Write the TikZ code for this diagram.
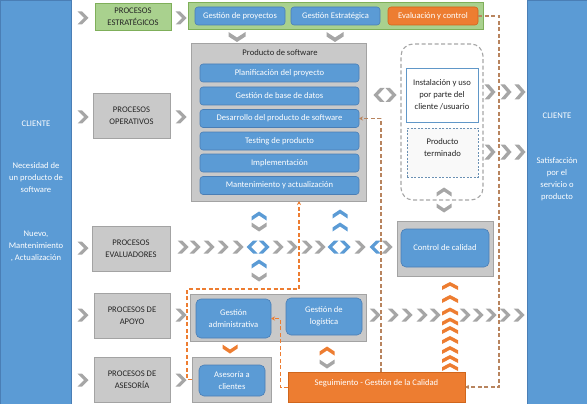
\documentclass[tikz,border=0pt]{standalone}
\usepackage{fontspec}
\setmainfont{Carlito}
\usetikzlibrary{arrows.meta,calc}
\definecolor{cblue}{HTML}{5B9BD5}
\definecolor{cblued}{HTML}{4A7EB5}
\definecolor{cgray}{HTML}{C9C9C9}
\definecolor{cgrayd}{HTML}{A3A3A3}
\definecolor{cchev}{HTML}{A6A6A6}
\definecolor{corange}{HTML}{ED7D31}
\definecolor{corangd}{HTML}{D0661C}
\definecolor{cbrown}{HTML}{B8845E}
\definecolor{cgreen}{HTML}{A9D18E}
\definecolor{cgreend}{HTML}{7FAF5A}
\definecolor{ctext}{HTML}{262626}
\tikzset{
  pics/chevr/.style args={#1/#2/#3}{code={
    \fill (-#1,-#2) -- (-#1+#3,-#2) -- (#1,0) -- (-#1+#3,#2) -- (-#1,#2) -- (#1-#3,0) -- cycle;}},
  gch/.style={color=cchev},
  bch/.style={color=cblue},
  och/.style={color=corange},
  bar/.style={fill=cblue, draw=cblued, line width=0.6pt},
  wtext/.style={text=white, align=center},
  ktext/.style={text=ctext, align=center},
  gbox/.style={fill=cgray, draw=cgrayd, line width=0.8pt, text=ctext, align=center},
  grbox/.style={fill=cgreen, draw=cgreend, line width=0.8pt, text=ctext, align=center},
  bbox/.style={fill=cblue, draw=cblued, line width=0.6pt, rounded corners=3pt, text=white, align=center},
  obox/.style={fill=corange, draw=corangd, line width=0.6pt, text=white, align=center},
  orbox/.style={fill=corange, draw=corangd, line width=0.6pt, rounded corners=3pt, text=white, align=center},
  bline/.style={draw=cbrown, line width=1.1pt, dash pattern=on 4pt off 2.5pt},
  oline/.style={draw=corange, line width=1.1pt, dash pattern=on 4pt off 2.5pt},
  tip/.style={-{Stealth[length=4pt,width=4pt]}}
}
\begin{document}
\begin{tikzpicture}[x=1pt,y=-1pt,font=\fontsize{8.6}{12}\selectfont,
  every node/.style={inner sep=0pt,outer sep=0pt}]
\useasboundingbox (0,0) rectangle (587,404);

% client bars
\node[bar, minimum width=71pt, minimum height=404pt] (cl) at (35.5,202) {};
\node[wtext] (clt1) at (36,124) {CLIENTE};
\node[wtext] (clt2) at (36,178) {Necesidad de\\un producto de\\software};
\node[wtext] (clt3) at (36,246) {Nuevo,\\Mantenimiento\\, Actualización};
\node[bar, minimum width=60pt, minimum height=404pt] (cr) at (557,202) {};
\node[wtext] (crt1) at (557,116) {CLIENTE};
\node[wtext] (crt2) at (557,179) {Satisfacción\\por el\\servicio o\\producto};

% process labels
\node[grbox, minimum width=76pt, minimum height=27pt] (pest) at (133,16.5) {PROCESOS\\ESTRATÉGICOS};
\node[gbox, minimum width=77pt, minimum height=45pt] (pope) at (131.5,115.5) {PROCESOS\\OPERATIVOS};
\node[gbox, minimum width=78pt, minimum height=45pt] (peva) at (131,248.5) {PROCESOS\\EVALUADORES};
\node[gbox, minimum width=76pt, minimum height=45pt] (papo) at (132,315.5) {PROCESOS DE\\APOYO};
\node[gbox, minimum width=76pt, minimum height=45pt] (pase) at (132,379.5) {PROCESOS DE\\ASESORÍA};

% strategic
\node[grbox, minimum width=295pt, minimum height=27pt] (gstr) at (335.5,15.5) {};
\node[bbox, minimum width=90pt, minimum height=18pt] (gpro) at (240,16) {Gestión de proyectos};
\node[bbox, minimum width=89pt, minimum height=18pt] (gest) at (335.5,16) {Gestión Estratégica};
\node[orbox, minimum width=90pt, minimum height=18pt] (evalc) at (433,16) {Evaluación y control};

% product
\node[gbox, minimum width=175pt, minimum height=158pt] (prod) at (278.5,122) {};
\node[ktext] (prodt) at (280,53) {Producto de software};
\node[bbox, minimum width=159pt, minimum height=18pt] (plan) at (279.5,73) {Planificación del proyecto};
\node[bbox, minimum width=159pt, minimum height=18pt] (gbd) at (279.5,96) {Gestión de base de datos};
\node[bbox, minimum width=159pt, minimum height=18pt] (desa) at (279.5,118.5) {Desarrollo del producto de software};
\node[bbox, minimum width=159pt, minimum height=18pt] (test) at (279.5,141) {Testing de producto};
\node[bbox, minimum width=159pt, minimum height=18pt] (impl) at (279.5,163) {Implementación};
\node[bbox, minimum width=159pt, minimum height=18pt] (mant) at (279.5,185.5) {Mantenimiento y actualización};

% delivery
\node[draw=cchev, line width=1.1pt, dash pattern=on 4pt off 2.5pt, rounded corners=12pt,
      minimum width=82pt, minimum height=156pt] (deliv) at (442,122) {};
\node[draw=cblue!85!gray, line width=0.7pt, fill=white, minimum width=72pt, minimum height=54pt, ktext] (inst) at (442,95) {Instalación y uso\\por parte del\\cliente /usuario};
\node[draw=cblue!60!gray, line width=0.7pt, dash pattern=on 2pt off 1.5pt, fill=gray!5, minimum width=71pt, minimum height=49pt] (pter) at (442.5,152.5) {};
\node[ktext] (ptert) at (442.5,147.5) {Producto\\terminado};

% quality control
\node[gbox, minimum width=96pt, minimum height=55pt] (ccal) at (445,248.5) {};
\node[bbox, minimum width=88pt, minimum height=38pt, rounded corners=5pt] (ccalb) at (445,248) {Control de calidad};

% support
\node[gbox, minimum width=176pt, minimum height=47pt] (apo) at (278,317.5) {};
\node[bbox, minimum width=75pt, minimum height=39pt, rounded corners=5pt] (gadm) at (233.5,318.5) {Gestión\\administrativa};
\node[bbox, minimum width=76pt, minimum height=37pt, rounded corners=5pt] (glog) at (324,316.5) {Gestión de\\logística};
\node[gbox, minimum width=79pt, minimum height=45pt] (ase) at (231.5,379.5) {};
\node[bbox, minimum width=66pt, minimum height=31pt, rounded corners=5pt] (asec) at (232,380.5) {Asesoría a\\clientes};
\node[obox, minimum width=177pt, minimum height=30pt] (seg) at (376.5,387) {};
\node[wtext] (segt) at (376.5,383) {Seguimiento - Gestión de la Calidad};

% chevrons: left column
\foreach \yy in {18,117,248,315,380} {\pic[gch] at (83,\yy) {chevr=5.5/6.5/4.5};}
\foreach \yy in {18,117,315,380} {\pic[gch] at (181,\yy) {chevr=5.5/6.5/4.5};}
% evaluators row
\foreach \xx in {195,209,223,238,278,292,307,320,360,387} {\pic[gch] at (\xx,247) {chevr=5.5/6.5/4.5};}
\pic[gch] at (183,247) {chevr=5.5/6.5/4.5};
\pic[bch,rotate=180] at (252,247) {chevr=5.5/6.5/4.5};
\pic[bch] at (264,247) {chevr=5.5/6.5/4.5};
\pic[bch,rotate=180] at (333,247) {chevr=5.5/6.5/4.5};
\pic[bch] at (345,247) {chevr=5.5/6.5/4.5};
\pic[bch,rotate=180] at (375,247) {chevr=5.5/6.5/4.5};
% vertical pairs
\pic[bch,rotate=90] at (259,216) {chevr=4.5/7.5/4};
\pic[gch,rotate=-90] at (259,227) {chevr=4.5/7.5/4};
\pic[bch,rotate=90] at (259,264) {chevr=4.5/7.5/4};
\pic[gch,rotate=-90] at (259,277) {chevr=4.5/7.5/4};
\pic[bch,rotate=90] at (340,214) {chevr=4.5/7.5/4};
\pic[bch,rotate=90] at (340,227) {chevr=4.5/7.5/4};
% below strategic
\pic[gch,rotate=-90] at (237,37) {chevr=5/8.5/4.5};
\pic[gch,rotate=-90] at (335,37) {chevr=5/8.5/4.5};
% near delivery
\pic[gch,rotate=180] at (379,95) {chevr=5.5/7/4.5};
\pic[gch] at (391,95) {chevr=5.5/7/4.5};
\pic[gch,rotate=90] at (444,192) {chevr=4.5/7.5/4};
\pic[gch,rotate=-90] at (444,208) {chevr=4.5/7.5/4};
\foreach \xx in {490,506,520} {\pic[gch] at (\xx,92) {chevr=5.5/7.5/4.5}; \pic[gch] at (\xx,152) {chevr=5.5/7.5/4.5};}
% support row
\foreach \xx in {375,393,407,422,435,465,478,491,505,519} {\pic[gch] at (\xx,315) {chevr=5.5/6.5/4.5};}
\foreach \yy in {286,299,311.5,321.5,330,340,350,359,367} {\pic[och,rotate=90] at (450,\yy) {chevr=4/8/3.8};}
\pic[och,rotate=-90] at (230,349) {chevr=4.5/7.5/4};
\pic[och,rotate=90] at (327,351) {chevr=4.5/7.5/4};
\pic[gch,rotate=-90] at (327,364) {chevr=4.5/7.5/4};

% dashed connectors
\coordinate (c2) at (381,372);
\coordinate (c3) at (299,289);
\draw[bline,tip] (evalc.east) -- ++(21,0) |- (seg.east);
\draw[bline,tip] (c2) |- (desa.east);
\draw[oline,tip] (ase.west) -- ++(-5,0) |- (c3) -- (c3 |- prod.south);
\draw[oline,tip,line width=0.9pt] (seg.west) -- ++(-8,0) |- (gadm.east);
\end{tikzpicture}
\end{document}
